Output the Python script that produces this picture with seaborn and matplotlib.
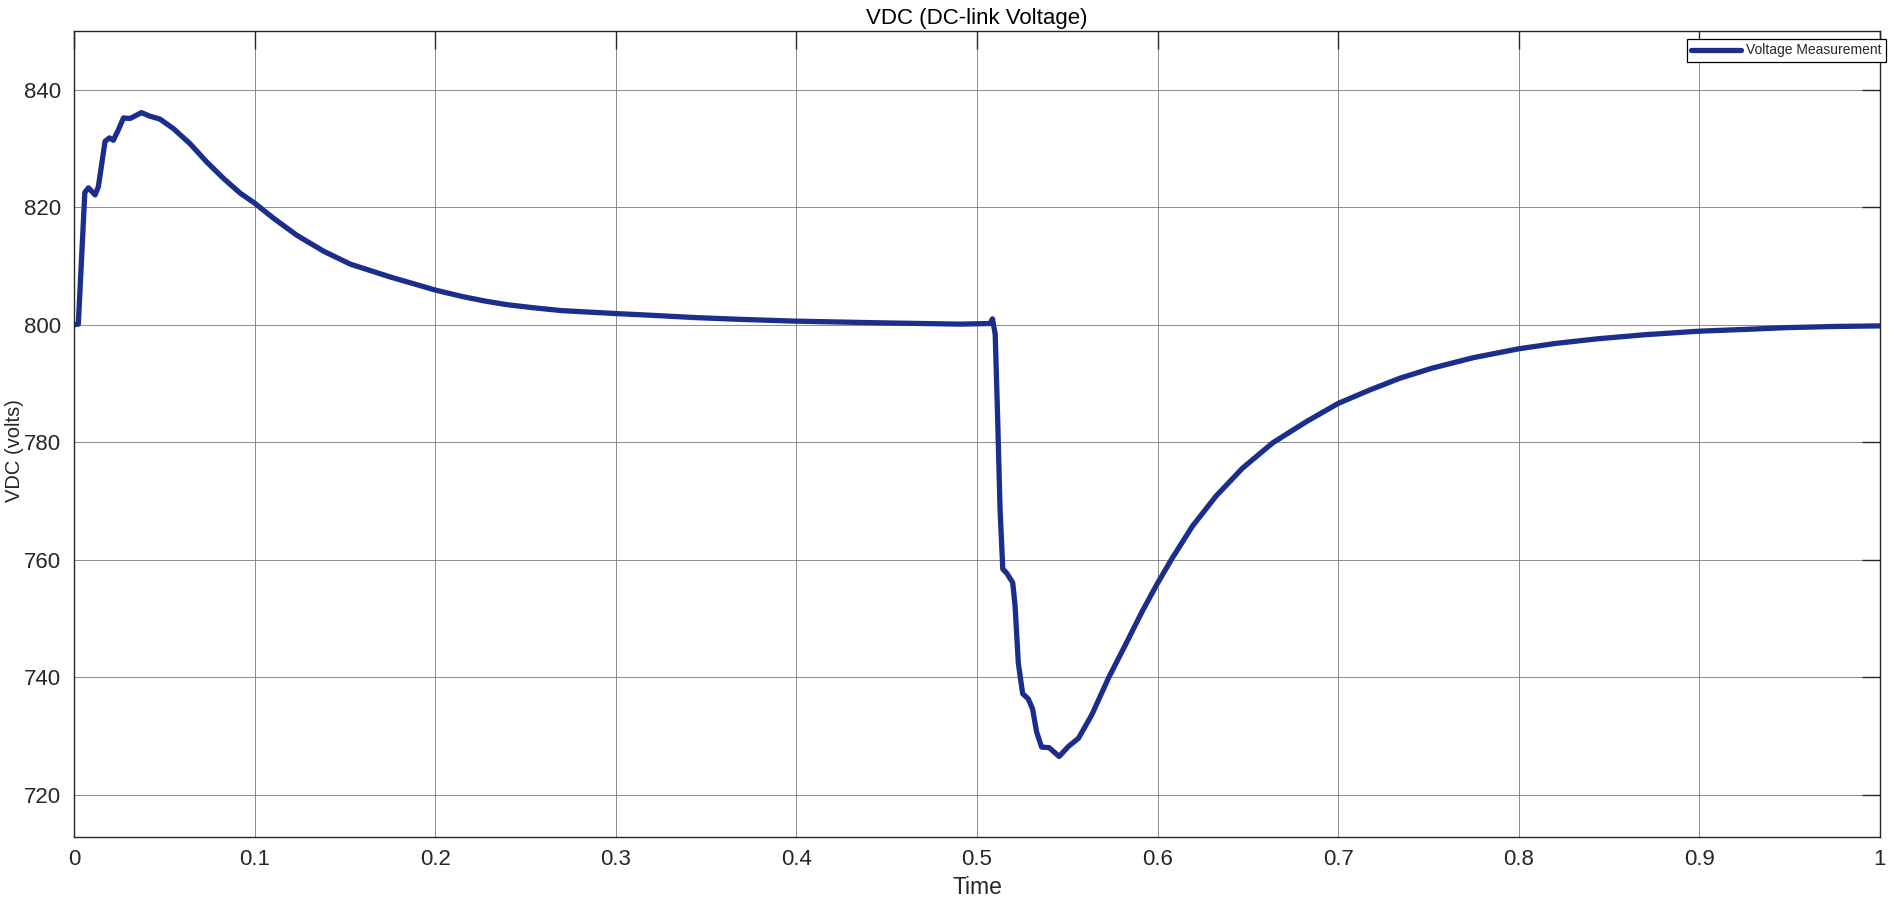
import numpy as np
import pandas as pd
import seaborn as sns
import matplotlib.pyplot as plt

# Time samples (s)
time_s = [0, 0.0024, 0.006, 0.008, 0.0117, 0.0135, 0.0172, 0.0196, 0.0218, 0.0246,
          0.0274, 0.031, 0.0374, 0.042, 0.0476, 0.055, 0.0643, 0.0735, 0.0828, 0.092,
          0.1, 0.1106, 0.1235, 0.1383, 0.1531, 0.1754, 0.19, 0.2, 0.215, 0.228,
          0.24, 0.254, 0.27, 0.3, 0.32, 0.345, 0.37, 0.4, 0.45, 0.4908,
          0.5073, 0.5086, 0.5101, 0.5114, 0.5128, 0.5143, 0.5165, 0.5198, 0.5211, 0.5229,
          0.5253, 0.5284, 0.5308, 0.533, 0.5358, 0.54, 0.5455, 0.5506, 0.5562, 0.5636,
          0.5729, 0.5822, 0.5915, 0.6, 0.6082, 0.6193, 0.6323, 0.6471, 0.6638, 0.6824,
          0.7, 0.7176, 0.7343, 0.752, 0.775, 0.8, 0.82, 0.8436, 0.87, 0.9,
          0.925, 0.948, 0.975, 1.0]

# DC-link voltage (V)
vdc = [800, 800.1, 822.5, 823.3, 822.1, 823.5, 831.2, 831.8, 831.4, 833.2,
       835.2, 835.1, 836.1, 835.5, 835.0, 833.4, 830.8, 827.7, 824.9, 822.4,
       820.7, 818.1, 815.2, 812.5, 810.3, 808.1, 806.8, 805.9, 804.8, 804.0,
       803.4, 802.9, 802.4, 801.9, 801.6, 801.2, 800.9, 800.6, 800.3, 800.1,
       800.2, 801.0, 798.4, 784.7, 768.5, 758.4, 757.7, 756.1, 752.2, 742.4,
       737.2, 736.3, 734.6, 730.7, 728.1, 728.0, 726.5, 728.2, 729.6, 733.6,
       739.9, 745.5, 751.2, 756.0, 760.3, 765.7, 770.8, 775.6, 779.9, 783.5,
       786.6, 788.9, 790.9, 792.6, 794.4, 795.9, 796.8, 797.6, 798.3, 798.9,
       799.2, 799.5, 799.7, 799.8]

x_ticks = [0, 0.1, 0.2, 0.3, 0.4, 0.5, 0.6, 0.7, 0.8, 0.9, 1]
x_tick_labels = ["0", "0.1", "0.2", "0.3", "0.4", "0.5", "0.6", "0.7", "0.8", "0.9", "1"]
y_ticks = [720, 740, 760, 780, 800, 820, 840]

df = pd.DataFrame({"Time": time_s, "VDC": vdc})

sns.set_style("white")
plt.rcParams["font.family"] = ["Liberation Sans", "DejaVu Sans"]

fig = plt.figure(figsize=(19.02, 9.06), dpi=100)
ax = fig.add_axes([0.0389, 0.0762, 0.9495, 0.8896])

sns.lineplot(data=df, x="Time", y="VDC", ax=ax, color="#1c2e8c", linewidth=3.8,
             estimator=None, sort=False, label="Voltage Measurement")
ax.lines[0].set_solid_joinstyle("round")

ax.set_xlim(0, 1)
ax.set_ylim(712.8, 850)
ax.set_xticks(x_ticks)
ax.set_xticklabels(x_tick_labels)
ax.set_yticks(y_ticks)

ax.grid(True, color="#7a7a7a", linewidth=0.6)
for s in ax.spines.values():
    s.set_color("#262626")
    s.set_linewidth(1.0)
    s.set_visible(True)

ax.tick_params(direction="in", length=13, width=1.0, colors="#262626",
               labelsize=16, top=True, right=True, pad=9)

ax.set_title("VDC (DC-link Voltage)", fontsize=16, pad=5, color="#000000")
ax.set_xlabel("Time", fontsize=16.5)
ax.set_ylabel("VDC (volts)", fontsize=14.5)
# label anchors: top of "Time", right side of the rotated y label
ax.xaxis.set_label_coords(0.5, -0.049)
ax.yaxis.set_label_coords(-0.0275, 0.48)

leg = ax.legend(loc="upper right", bbox_to_anchor=(1.0033, 0.9897), fontsize=10,
                frameon=True, fancybox=False, shadow=False, framealpha=1,
                handlelength=3.6, handletextpad=0.4, borderpad=0.3,
                borderaxespad=0)
leg.get_frame().set_edgecolor("#000000")
leg.get_frame().set_linewidth(0.9)

fig.savefig("out.png", dpi=100)
plt.close(fig)
